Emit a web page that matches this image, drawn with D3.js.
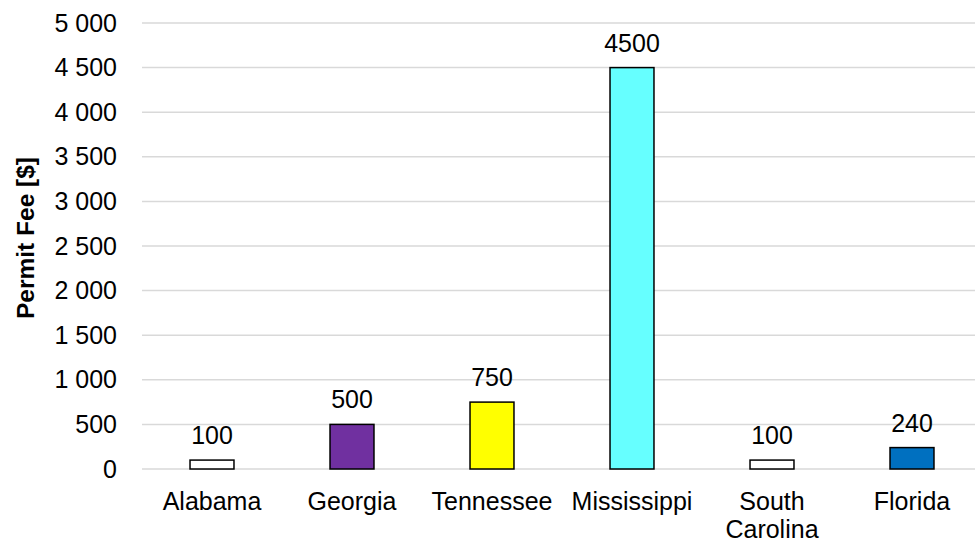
<!DOCTYPE html>
<html>
<head>
<meta charset="utf-8">
<script src="https://cdn.jsdelivr.net/npm/d3@7"></script>
<style>
  html, body { margin: 0; padding: 0; background: #fff; }
  svg { display: block; font-family: "Liberation Sans", Arial, sans-serif; }
</style>
</head>
<body>
<svg id="chart" width="975" height="543"></svg>
<script>
// Permit fees by state
const states = ["Alabama", "Georgia", "Tennessee", "Mississippi", "South Carolina", "Florida"];
const fees = [100, 500, 750, 4500, 100, 240];
const barColors = ["#ffffff", "#7030a0", "#ffff00", "#66ffff", "#ffffff", "#0070c0"];
const yTicks = [0, 500, 1000, 1500, 2000, 2500, 3000, 3500, 4000, 4500, 5000];
const yTitle = "Permit Fee [$]";

const FS = 25;
const svg = d3.select("#chart");
const margin = { left: 142, right: -7, top: 23, bottom: 74 };
const W = 975, H = 543;

const x = d3.scaleBand()
  .domain(states)
  .range([margin.left, W - margin.right])
  .paddingInner(0.686)
  .paddingOuter(0.343);

const y = d3.scaleLinear()
  .domain([0, 5000])
  .range([H - margin.bottom, margin.top]);

const fmt = v => d3.format(",")(v).replace(/,/g, " ");

// gridlines
svg.append("g")
  .selectAll("line")
  .data(yTicks)
  .join("line")
  .attr("x1", margin.left)
  .attr("x2", W - margin.right)
  .attr("y1", d => y(d))
  .attr("y2", d => y(d))
  .attr("stroke", "#d9d9d9")
  .attr("stroke-width", 1.5);

// y axis labels
const yAxis = d3.axisLeft(y).tickValues(yTicks).tickFormat(fmt).tickSize(0).tickPadding(0);
svg.append("g")
  .attr("transform", `translate(117,0)`)
  .call(yAxis)
  .attr("font-size", FS)
  .attr("font-family", null)
  .call(g => g.select(".domain").remove())
  .call(g => g.selectAll("text").attr("fill", "#000"));

// y title
svg.append("text")
  .attr("transform", `translate(34, 238) rotate(-90)`)
  .attr("text-anchor", "middle")
  .attr("font-size", 24.5)
  .attr("font-weight", "bold")
  .text(yTitle);

// bars
const data = states.map((s, i) => ({ state: s, fee: fees[i], color: barColors[i] }));
svg.append("g")
  .selectAll("rect")
  .data(data)
  .join("rect")
  .attr("x", d => x(d.state))
  .attr("width", x.bandwidth())
  .attr("y", d => y(d.fee))
  .attr("height", d => y(0) - y(d.fee))
  .attr("fill", d => d.color)
  .attr("stroke", "#000")
  .attr("stroke-width", 1.5);

// value labels
svg.append("g")
  .selectAll("text")
  .data(data)
  .join("text")
  .attr("x", d => x(d.state) + x.bandwidth() / 2)
  .attr("y", d => y(d.fee) - 16)
  .attr("text-anchor", "middle")
  .attr("font-size", FS)
  .text(d => d.fee);

// category labels
const xl = svg.append("g")
  .selectAll("text")
  .data(states)
  .join("text")
  .attr("x", d => x(d) + x.bandwidth() / 2)
  .attr("y", y(0) + 41)
  .attr("text-anchor", "middle")
  .attr("font-size", FS);
xl.each(function(d) {
  const t = d3.select(this);
  const parts = d === "South Carolina" ? ["South", "Carolina"] : [d];
  parts.forEach((p, i) => {
    t.append("tspan")
      .attr("x", x(d) + x.bandwidth() / 2)
      .attr("dy", i === 0 ? 0 : 28)
      .text(p);
  });
});
</script>
</body>
</html>
